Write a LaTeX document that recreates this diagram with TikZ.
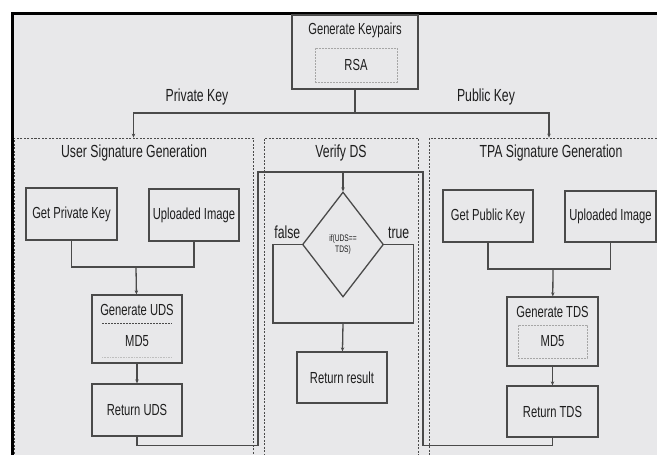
\documentclass[tikz,border=0pt]{standalone}
\usepackage{fontspec}
\newfontfamily\narrowsf[FakeStretch=0.7]{Liberation Sans}
\usetikzlibrary{shapes.geometric, arrows.meta, calc}

\definecolor{bggray}{HTML}{E8E8EA}
\definecolor{linegray}{HTML}{4A4A4A}
\definecolor{txtgray}{HTML}{1E1E1E}

\tikzset{
  proc/.style={draw=linegray, line width=1.3pt, minimum width=90, minimum height=52,
    inner sep=0pt, font=\narrowsf\fontsize{16}{18}\selectfont, text=txtgray},
  group/.style={draw=linegray, line width=0.8pt, dash pattern=on 2pt off 1.5pt,
    inner sep=0pt},
  grouptitle/.style={font=\narrowsf\fontsize{17.5}{19}\selectfont, text=txtgray},
  inner/.style={draw=gray!70, line width=0.7pt, dash pattern=on 2pt off 1pt,
    inner sep=0pt, font=\narrowsf\fontsize{16}{18}\selectfont, text=txtgray},
  conn/.style={draw=linegray, line width=1.3pt},
  arr/.style={conn, -{Stealth[length=4pt,width=3.5pt]}}
}

\begin{document}
\begin{tikzpicture}[x=1pt, y=-1pt]

    \useasboundingbox (0,0) rectangle (657,455);
    \clip (0,0) rectangle (657,455);
    \fill[bggray] (11,13) rectangle (657,455);
    \draw[line width=3pt] (12,455) -- (12,13.5) -- (657,13.5);

    % key generation
    \node[proc, minimum width=126, minimum height=74] (keygen) at (355,52) {};
    \node[font=\narrowsf\fontsize{16}{18}\selectfont, text=txtgray] (keygentxt) at (355,30) {Generate Keypairs};
    \node[inner, minimum width=82, minimum height=34] (rsa) at (356,65) {RSA};

    % groups
    \node[group, minimum width=239, minimum height=332] (usergrp) at (133.5,304) {};
    \node[group, minimum width=154, minimum height=332] (verifygrp) at (341,304) {};
    \node[group, minimum width=240, minimum height=332] (tpagrp) at (549,304) {};
    \node[grouptitle] (usertitle) at (134,153) {User Signature Generation};
    \node[grouptitle] (verifytitle) at (341,153) {Verify DS};
    \node[grouptitle] (tpatitle) at (551,153) {TPA Signature Generation};

    \coordinate (fork) at (355,113);
    \draw[conn] (keygen.south) -- (fork);
    \draw[arr] (fork) -| (usergrp.north);
    \draw[arr] (fork) -| (tpagrp.north);
    \node[grouptitle] (privlbl) at (197,97) {Private Key};
    \node[grouptitle] (publbl) at (486,97) {Public Key};

    % user side
    \node[proc, minimum width=91] (privkey) at (71.5,214) {Get Private Key};
    \node[proc] (upimgu) at (194,215) {Uploaded Image};
    \node[proc, minimum height=68] (genuds) at (137,329) {};
    \node[font=\narrowsf\fontsize{16}{18}\selectfont, text=txtgray] (genudstxt) at (137,310) {Generate UDS};
    \draw[linegray, line width=0.9pt, dash pattern=on 2pt off 1pt] (102,323) -- (172,323);
    \draw[gray!50, line width=0.6pt, densely dotted] (102,357) -- (172,357);
    \node[font=\narrowsf\fontsize{16}{18}\selectfont, text=txtgray] (md5u) at (137,341) {MD5};
    \node[proc] (retuds) at (137,410) {Return UDS};

    \coordinate (umerge) at (136,267);
    \draw[conn] (privkey.south) |- (umerge) -| (upimgu.south);
    \draw[arr] (umerge) -- (genuds);
    \draw[arr] (genuds) -- (retuds);

    % tpa side
    \node[proc] (pubkey) at (488,216) {Get Public Key};
    \node[proc, minimum width=91, minimum height=51] (upimgt) at (610.5,216.5) {Uploaded Image};
    \node[proc, minimum width=91, minimum height=69] (gentds) at (552.5,331.5) {};
    \node[font=\narrowsf\fontsize{16}{18}\selectfont, text=txtgray] (gentdstxt) at (552.5,312) {Generate TDS};
    \node[inner, minimum width=69, minimum height=33] (md5t) at (552.5,341.5) {MD5};
    \node[proc, minimum width=91, minimum height=51] (rettds) at (552.5,411.5) {Return TDS};

    \coordinate (tmerge) at (553,269);
    \draw[conn] (pubkey.south) |- (tmerge) -| (upimgt.south);
    \draw[arr] (tmerge) -- (gentds);
    \draw[arr] (gentds) -- (rettds);

    % verify
    \coordinate (vleft) at (258,172);
    \coordinate (vright) at (423,172);
    \coordinate (vtop) at (343,172);
    \draw[conn] (retuds.south) -- ++(0,9) -| (vleft) -- (vtop);
    \draw[conn] (rettds.south) -- ++(0,8) -| (vright) -- (vtop);

    \node[diamond, draw=linegray, line width=1.3pt, minimum width=81, minimum height=105,
      inner sep=0pt, align=center, font=\narrowsf\fontsize{9.5}{10.5}\selectfont, text=txtgray]
      (cond) at (343,244.5) {if(UDS==\\TDS)};
    \draw[arr] (vtop) -- (cond.north);

    \coordinate (vjoin) at (343,323);
    \draw[conn] (cond.west) -- ++(-29,0) node[midway, above=2pt, grouptitle] {false} |- (vjoin);
    \draw[conn] (cond.east) -- ++(29,0) node[midway, above=2pt, grouptitle] {true} |- (vjoin);

    \node[proc, minimum height=51] (result) at (342,377.5) {Return result};
    \draw[arr] (vjoin) -- (result);
\end{tikzpicture}
\end{document}
